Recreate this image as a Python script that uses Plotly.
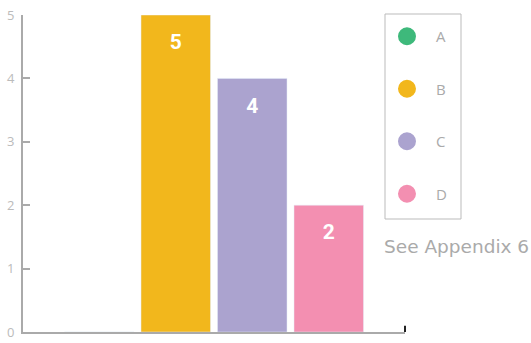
import plotly.graph_objects as go

categories = [""]
series_names = ["A", "B", "C", "D"]
series_values = [0, 5, 4, 2]
series_colors = ["#3EB97B", "#F2B71C", "#ABA3CF", "#F38FB1"]
y_ticks = [0, 1, 2, 3, 4, 5]
note_text = "See Appendix 6"

fig = go.Figure()
for name, val, col in zip(series_names, series_values, series_colors):
    fig.add_trace(go.Bar(
        x=categories, y=[val], name=name, marker_color=col,
        text=[val if val else ""],
        texttemplate="<span style='font-size:4px'>&nbsp;</span><br>%{text}",
        textposition="inside", insidetextanchor="end",
        textfont=dict(color="white", size=21, family="Roboto", weight="bold"),
        showlegend=False, cliponaxis=False,
    ))
    fig.add_trace(go.Scatter(
        x=[None], y=[None], mode="markers", name=name, legendgroup=name,
        marker=dict(color=col, size=16, line=dict(color=col, width=2)),
        showlegend=True,
    ))

fig.update_layout(
    width=531, height=343,
    margin=dict(l=23, r=126, t=15, b=11, autoexpand=False),
    plot_bgcolor="white", paper_bgcolor="white",
    barmode="group", bargap=0.199, bargroupgap=0.0915,
    font=dict(family="Open Sans", color="#b5b5b5"),
    xaxis=dict(showticklabels=False, ticks="", showgrid=False, zeroline=False,
               showline=True, linecolor="#aaaaaa", linewidth=2, automargin=False),
    yaxis=dict(range=[0, 5], tickvals=y_ticks, ticks="inside", ticklen=7,
               tickcolor="#aaaaaa", tickwidth=2, showgrid=False, zeroline=False,
               showline=True, linecolor="#aaaaaa", linewidth=2, automargin=False,
               tickfont=dict(size=13, color="#bbbbbb"), ticklabelstandoff=4),
    legend=dict(x=0.9293, y=0.9842, xanchor="left", yanchor="top",
                borderwidth=0, bgcolor="rgba(0,0,0,0)",
                font=dict(size=15, color="#aaaaaa"), tracegroupgap=30,
                traceorder="grouped", itemwidth=48, maxheight=400),
    showlegend=True,
)
# legend frame
fig.add_shape(type="rect", xref="paper", yref="paper",
              x0=(385 - 23) / 382, x1=(461 - 23) / 382,
              y0=(332 - 219) / 317, y1=(332 - 14) / 317,
              line=dict(color="#bbbbbb", width=1), fillcolor="rgba(0,0,0,0)", layer="below")
# dark end tick on the x axis
fig.add_shape(type="line", xref="paper", yref="paper", x0=1, x1=1, y0=0, y1=0.02,
              line=dict(color="#222222", width=2))
fig.add_annotation(text=note_text, xref="paper", yref="paper", x=0.940, y=0.27,
                   xanchor="left", yanchor="middle", showarrow=False,
                   font=dict(size=18.5, color="#aaaaaa", family="DejaVu Sans"))

fig.write_html("out.html", config={"displayModeBar": False},
               post_script="document.body.style.margin='0';")
